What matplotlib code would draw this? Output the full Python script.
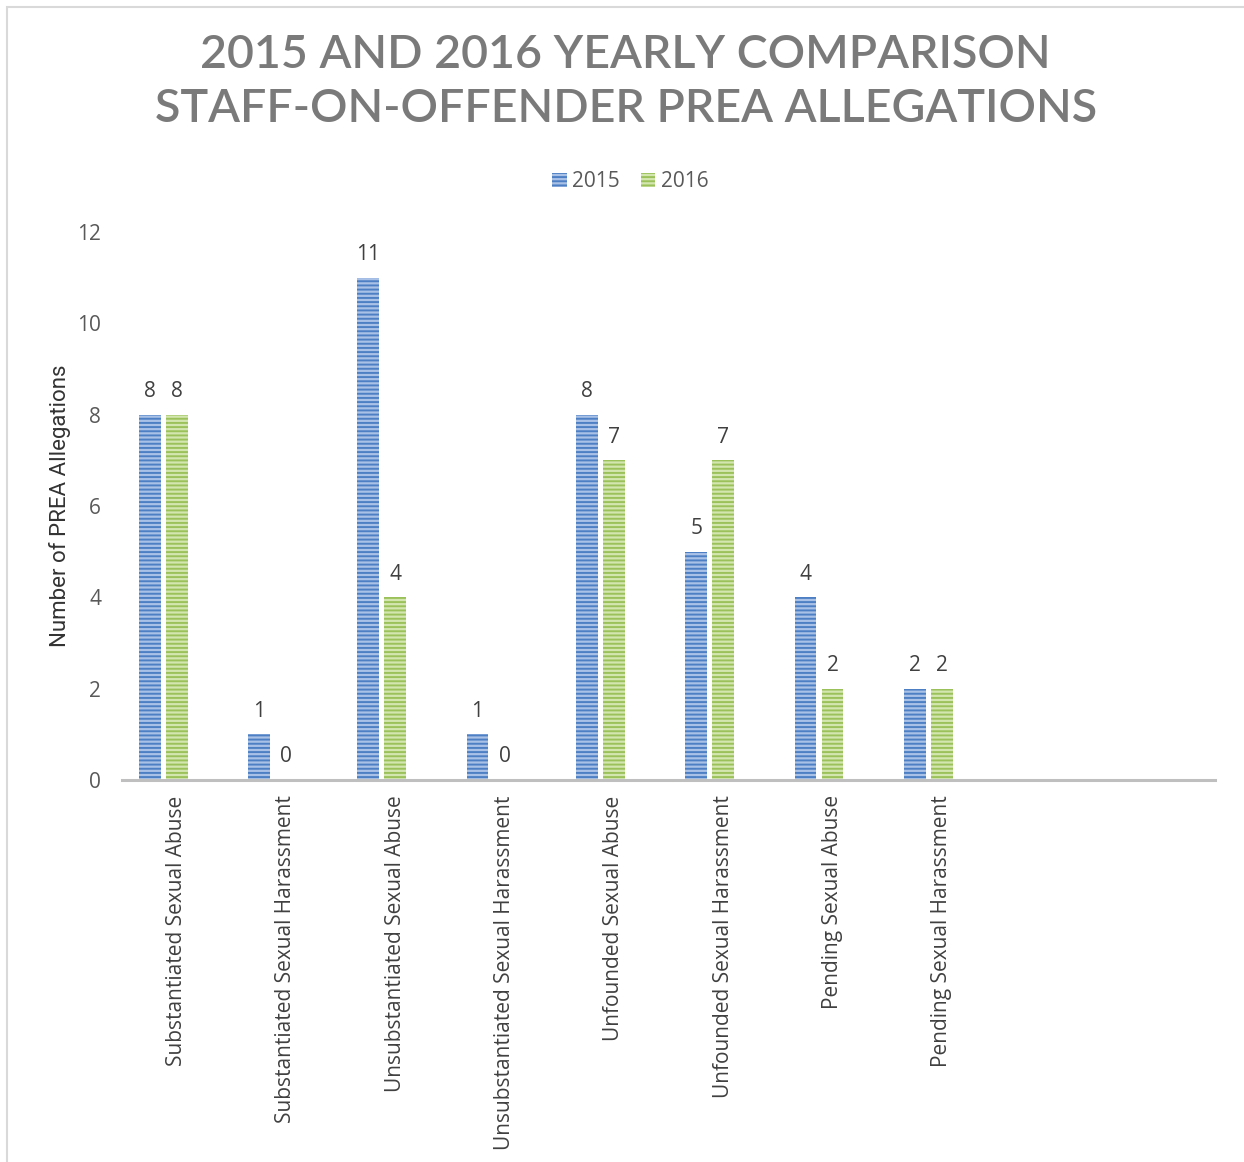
import matplotlib
matplotlib.use("Agg")
import matplotlib.pyplot as plt
from matplotlib.patches import Rectangle
import numpy as np

# chart data
categories = [
    "Substantiated Sexual Abuse",
    "Substantiated Sexual Harassment",
    "Unsubstantiated Sexual Abuse",
    "Unsubstantiated Sexual Harassment",
    "Unfounded Sexual Abuse",
    "Unfounded Sexual Harassment",
    "Pending Sexual Abuse",
    "Pending Sexual Harassment",
    "",
    "",
]
values_2015 = [8, 1, 11, 1, 8, 5, 4, 2]
values_2016 = [8, 0, 4, 0, 7, 7, 2, 2]
series_names = ["2015", "2016"]
y_ticks = [0, 2, 4, 6, 8, 10, 12]
title_lines = ["2015 AND 2016 YEARLY COMPARISON", "STAFF-ON-OFFENDER PREA ALLEGATIONS"]

plt.rcParams['font.family'] = ['Open Sans', 'DejaVu Sans']
plt.rcParams['hatch.linewidth'] = 1.4

fig = plt.figure(figsize=(12.44, 11.62), dpi=100)
ax = fig.add_axes((122 / 1244, 1 - 780 / 1162, (1215 - 122) / 1244, (780 - 232) / 1162))

x = np.arange(len(categories))
n = len(values_2015)
width = 0.2
offset = 0.247

bars15 = ax.bar(x[:n] - offset, values_2015, width, facecolor='#a9c1e6',
                edgecolor='#4d7fc4', hatch='----', linewidth=0, label=series_names[0])
bars16 = ax.bar(x[:n], values_2016, width, facecolor='#d3e6b0',
                edgecolor='#9bc15a', hatch='----', linewidth=0, label=series_names[1])

for bars in (bars15, bars16):
    for b in bars:
        h = b.get_height()
        ax.annotate(f"{int(h)}", (b.get_x() + b.get_width() / 2, h),
                    xytext=(0, 9), textcoords='offset points',
                    ha='center', va='bottom', fontsize=15, color='#404040')

ax.set_xlim(-0.5, len(categories) - 0.5)
ax.set_ylim(0, 12)
ax.set_yticks(y_ticks)
ax.set_yticklabels([str(t) for t in y_ticks], fontsize=15, color='#595959')
ax.set_xticks(x)
ax.set_xticklabels(categories, rotation=90, fontsize=15, color='#404040', va='top')
ax.tick_params(axis='both', length=0)
ax.tick_params(axis='y', pad=15)
ax.tick_params(axis='x', pad=11)

for s in ('top', 'right', 'left'):
    ax.spines[s].set_visible(False)
ax.spines['bottom'].set_color('#bfbfbf')
ax.spines['bottom'].set_linewidth(2.2)

ax.set_ylabel("Number of PREA Allegations", fontsize=16, color='#333333',
              family=['Roboto', 'DejaVu Sans'])
ax.yaxis.set_label_coords(-0.047, 0.5)

leg = ax.legend(loc='upper center', bbox_to_anchor=(0.465, 1.145), ncol=2, frameon=False,
                fontsize=15, handlelength=0.7, handleheight=0.7, handletextpad=0.25,
                columnspacing=1.0)
for t in leg.get_texts():
    t.set_color('#595959')

for line, ypix in zip(title_lines, (55, 109)):
    fig.text(0.503, 1 - ypix / 1162, line, ha='center', va='center',
             fontsize=33.5, color='#7a7a7a', fontweight='semibold',
             family=['Lato', 'DejaVu Sans'])

# outer chart border
fig.patches.append(Rectangle((7 / 1244, -0.05), 1.1, 1 - 7 / 1162 + 0.05,
                             transform=fig.transFigure, fill=False,
                             edgecolor='#d9d9d9', linewidth=1.5))

fig.savefig("out.png", dpi=100)
